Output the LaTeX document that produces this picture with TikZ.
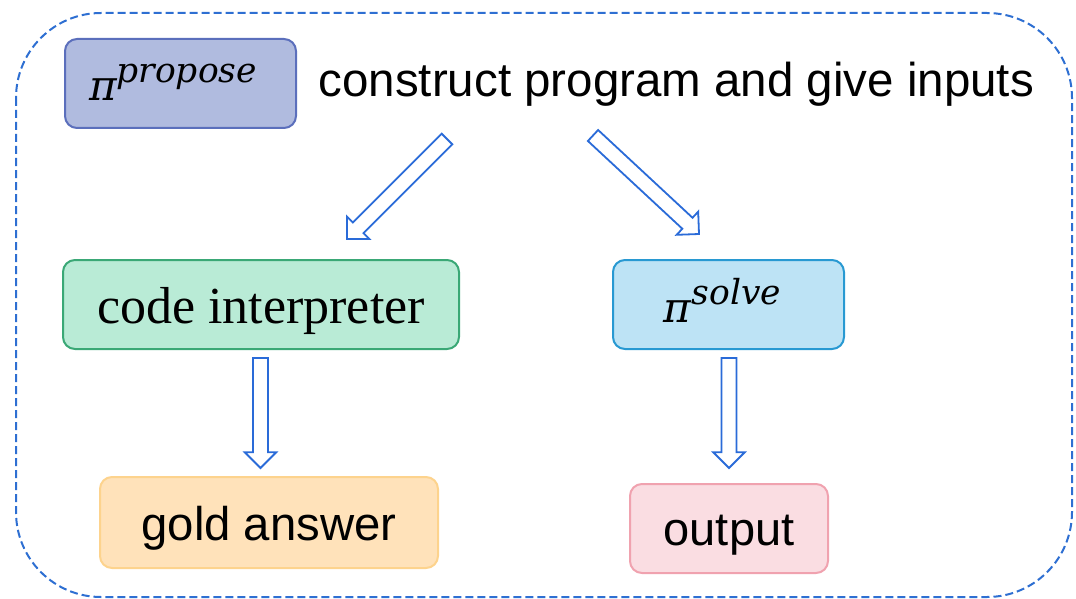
\documentclass[tikz,border=0pt]{standalone}
\usepackage{graphicx}
\usepackage{fontspec}
\setmainfont{Liberation Sans}
\newfontfamily\boxserif{Liberation Serif}
\newfontfamily\polfont{DejaVu Serif}
\usetikzlibrary{calc}

\definecolor{frameblue}{HTML}{2E6FD2}
\definecolor{arrowblue}{HTML}{2A6BD8}
\definecolor{propfill}{HTML}{B0BBDF}
\definecolor{propline}{HTML}{5B6FBC}
\definecolor{codefill}{HTML}{B9EBD6}
\definecolor{codeline}{HTML}{3AA876}
\definecolor{solvefill}{HTML}{BDE3F5}
\definecolor{solveline}{HTML}{2899D2}
\definecolor{goldfill}{HTML}{FFE2BA}
\definecolor{goldline}{HTML}{FDD38D}
\definecolor{outfill}{HTML}{FADDE2}
\definecolor{outline}{HTML}{F0A2AF}

\tikzset{
  box/.style={draw, line width=2pt, rounded corners=12pt, inner sep=0pt,
              text depth=0pt},
  barrow/.style={draw=arrowblue, fill=white, line width=1.8pt, line join=miter},
  bigtext/.style={font=\fontsize{47.5}{56}\selectfont},
}

% policy symbol: pi with a raised italic tag
\newcommand\policy[1]{{\polfont\itshape\fontsize{42}{48}\selectfont
  π\raisebox{18pt}{\fontsize{34.5}{40}\selectfont #1}}}

% hollow block arrow from tail #1 to tip #2
\newcommand\blockarrow[2]{%
  \coordinate (hb) at ($(#2)!15.8pt!(#1)$);
  \draw[barrow] ($(#1)!7.5pt!90:(#2)$) -- ($(hb)!7.5pt!90:(#2)$)
    -- ($(hb)!15.8pt!90:(#2)$) -- (#2) -- ($(hb)!15.8pt!-90:(#2)$)
    -- ($(hb)!7.5pt!-90:(#2)$) -- ($(#1)!7.5pt!-90:(#2)$) -- cycle;
}

\begin{document}
\begin{tikzpicture}[x=1pt,y=-1pt]
\useasboundingbox (0,0) rectangle (1076,599);

% dashed outer frame
\draw[frameblue, line width=2pt, dash pattern=on 8pt off 4pt, rounded corners=85pt]
  (16,13) rectangle (1072,597);

% boxes (text height sets the baseline below the box centre)
\node[box, draw=propline, fill=propfill, minimum width=231pt, minimum height=89pt,
      text height=35pt]
  (prop) at (180.5,83.5) {\hspace*{-15pt}\policy{propose}};
\node[bigtext, anchor=base west] (task) at (315,97) {construct program and give inputs};

\node[box, draw=codeline, fill=codefill, minimum width=396pt, minimum height=89pt,
      text height=37pt]
  (code) at (261,304.5) {\boxserif\fontsize{52}{60}\selectfont code interpreter};
\node[box, draw=solveline, fill=solvefill, minimum width=231pt, minimum height=89pt,
      text height=35pt]
  (solve) at (728.5,304.5) {\hspace*{-12pt}\policy{solve}};

\node[box, draw=goldline, fill=goldfill, minimum width=338pt, minimum height=91pt,
      text height=35pt]
  (gold) at (269,522.5) {\fontsize{47.3}{56}\selectfont gold answer};
\node[box, draw=outline, fill=outfill, minimum width=198pt, minimum height=89pt,
      text height=33pt]
  (out) at (729,528.5) {\fontsize{47}{56}\selectfont output};

% arrow ends
\coordinate (pl) at (447,139);
\coordinate (cl) at (347,239);
\coordinate (pr) at (593,135.5);
\coordinate (sr) at (699,234);
\coordinate (cb) at (260.5,358);
\coordinate (gt) at (260.5,468);
\coordinate (sb) at (729,358);
\coordinate (ot) at (729,468);

\blockarrow{pl}{cl}
\blockarrow{pr}{sr}
\blockarrow{cb}{gt}
\blockarrow{sb}{ot}
\end{tikzpicture}
\end{document}
